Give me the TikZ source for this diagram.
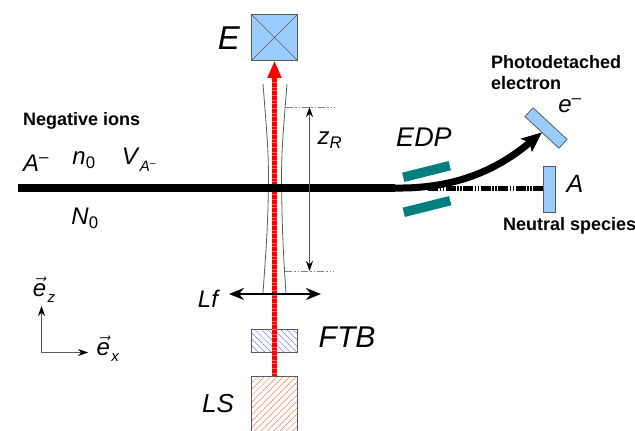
\documentclass[tikz,border=0pt]{standalone}
\usepackage{amsmath}
\usepackage{fontspec}
\setmainfont{Liberation Sans}
\usetikzlibrary{positioning, calc, arrows.meta, patterns.meta}
\definecolor{plate}{HTML}{99CCFF}
\definecolor{teal2}{HTML}{007F7F}
\definecolor{edge}{HTML}{5A5A5A}
\tikzstyle{Arrow} = [
    line width = 0.8pt, edge,
    {Stealth[length=10pt, width=7pt, black]}-{Stealth[length=10pt, width=7pt, black]}
]
\tikzstyle{Guide} = [
    line width = 0.6pt, gray, dash pattern = on 7pt off 2pt on 1.5pt off 2pt on 1.5pt off 2pt
]
\newcommand{\ital}[1]{\textit{#1}}
\newcommand{\subs}[1]{\hspace{1.5pt}\raisebox{-6pt}{\fontsize{15}{15}\selectfont\ital{#1}}}

\begin{document}
\begin{tikzpicture}[
x = 1pt, y = -1pt,
Box/.style = {
    draw = edge,
    line width = 0.8pt,
    inner sep = 0pt,
    outer sep = 0pt,
    minimum width = 46.5pt
    },
Detector/.style = {
    Box,
    fill = plate,
    minimum height = 12pt
    },
Electrode/.style = {
    fill = teal2,
    inner sep = 0pt,
    outer sep = 0pt,
    minimum width = 48pt,
    minimum height = 9.5pt,
    rotate = 14
    },
Big/.style = {font = \fontsize{33}{33}\selectfont, inner sep = 0pt},
Mid/.style = {font = \fontsize{24}{24}\selectfont, inner sep = 0pt},
Bold/.style = {font = \fontsize{18}{21}\selectfont\bfseries, inner sep = 0pt, align = left, anchor = west}
]

\useasboundingbox (0,0) rectangle (635,431);

% instruments on the laser axis
\node [Box, fill = plate, minimum height = 46.5pt] (det) at (274.5,37.5) {};
\draw [edge, line width = 0.7pt] (det.north west) -- (det.south east) (det.north east) -- (det.south west);
\node [Box, minimum height = 23pt, pattern = {Lines[angle=-45, distance=4.5pt, line width=0.5pt]}, pattern color = blue!55] (ftb) at (274.5,340.5) {};
\node [Box, anchor = north, minimum height = 60pt, pattern = {Lines[angle=45, distance=4.5pt, line width=0.5pt]}, pattern color = red!50!orange!70] (ls) at (274.5,376) {};

% laser
\draw [red!65, line width = 5.5pt] (ls.north) -- (274.5,76);
\draw [red, line width = 5.5pt, dash pattern = on 2pt off 0.6pt] (ls.north) -- (274.5,76);
\draw [-{Triangle[length=17pt, width=13pt]}, red, line width = 5.5pt] (274.5,80) -- (det.south);

% gaussian waist
\coordinate (gtl) at (263,84);
\coordinate (gtr) at (287,84);
\coordinate (gbl) at (263,293);
\coordinate (gbr) at (286,293);
\draw [edge, line width = 0.8pt] (gtl) .. controls (267,135) and (269,155) .. (268.3,188) .. controls (268,225) and (266,250) .. (gbl);
\draw [edge, line width = 0.8pt] (gtr) .. controls (283,135) and (281,155) .. (281.7,188) .. controls (282,225) and (283,250) .. (gbr);

% detectors
\node [Box, fill = plate, minimum width = 12pt, minimum height = 46pt] (ntr) at (549,189) {};
\node [Detector, rotate = -43] (ele) at (546,128) {};

% ion beam
\coordinate (src) at (18,188);
\coordinate (fork) at (395,188);
\coordinate (cut) at (428,188);
\draw [line width = 5pt, dash pattern = on 10pt off 1.5pt on 1.5pt off 1.5pt on 1.5pt off 1.5pt] (cut) -- (ntr.west |- cut);
\draw [line width = 7.5pt] (src) -- (fork);
\draw [-{Stealth[length=20pt, width=17pt, inset=4pt]}, line width = 7pt] (fork) .. controls (455,189) and (497,170) .. (ele.south);

% plates
\node [Electrode] (up) at (426.5,171.5) {};
\node [Electrode] (dn) at (427,206.5) {};

% lens
\coordinate (lfl) at (229,294);
\coordinate (lfr) at (321,294);
\draw [{Stealth[length=15pt, width=12pt]}-{Stealth[length=15pt, width=12pt]}, line width = 2.4pt] (lfl) -- (lfr);

% rayleigh length
\coordinate (zt) at (286,107);
\coordinate (zb) at (285,271);
\draw [Guide] (zt) -- ++(49,0);
\draw [Guide] (zb) -- ++(49,0);
\draw [Arrow] ($(zt)+(23.5,0)$) -- ($(zb)+(24.5,0)$);

% axes
\coordinate (org) at (41.5,352.5);
\coordinate (ezt) at (41.5,306);
\coordinate (ext) at (88,352.5);
\draw [edge, line width = 0.8pt, -{Stealth[length=10pt, width=7pt, black]}] (org) -- (ezt);
\draw [edge, line width = 0.8pt, -{Stealth[length=10pt, width=7pt, black]}] (org) -- (ext);

% labels
\node [Big] (lbe) at (229,38) {\ital{E}};
\node [Mid] (lbf) at (209,299) {\ital{Lf}};
\node [Big, font = \fontsize{30}{30}\selectfont] (lbt) at (347,337) {\ital{FTB}};
\node [Big, font = \fontsize{26}{26}\selectfont] (lbs) at (218,404) {\ital{LS}};
\node [Big, font = \fontsize{27}{27}\selectfont] (lbd) at (424,137) {\ital{EDP}};
\node [Mid, font = \fontsize{25}{25}\selectfont] (lba) at (575,184) {\ital{A}};
\node [Mid] (lbm) at (570,106) {\ital{e}\textsuperscript{--}};
\node [Mid] (lbi) at (36,163) {\ital{A}\textsuperscript{--}};
\node [Mid] (lbn) at (84,160) {\ital{n}\textsubscript{0}};
\node [Mid] (lbv) at (139,160) {\ital{V}\raisebox{-7pt}{\fontsize{15}{15}\selectfont\ital{A}\textsuperscript{--}}};
\node [Mid] (lbc) at (85,218) {\ital{N}\textsubscript{0}};
\node [Mid] (lbz) at (330,140) {\ital{z}\textsubscript{\ital{R}}};
\node [Mid] (lbx) at (108,349) {$\vec{\mbox{\ital{e}}}$\subs{x}};
\node [Mid] (lby) at (44,290) {$\vec{\mbox{\ital{e}}}$\subs{z}};
\node [Bold] (lbp) at (491,73) {Photodetached\\electron};
\node [Bold] (lbg) at (503,226) {Neutral species};
\node [Bold] (lbo) at (23,121) {Negative ions};

\end{tikzpicture}
\end{document}
